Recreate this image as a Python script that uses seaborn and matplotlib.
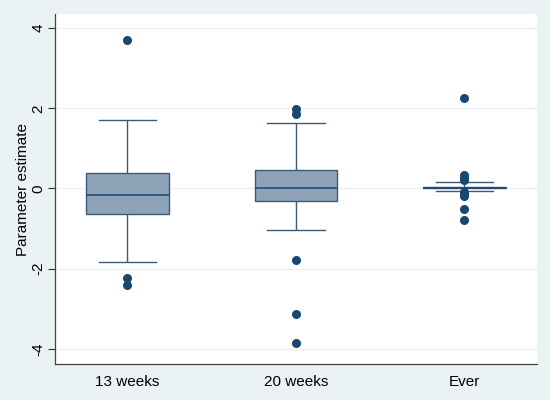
import numpy as np
import pandas as pd
import matplotlib
matplotlib.use("Agg")
import matplotlib.pyplot as plt
import seaborn as sns

# Five-number summaries (lower whisker, Q1, median, Q3, upper whisker)
groups = ["13 weeks", "20 weeks", "Ever"]
summary_13 = [-1.83, -0.63, -0.15, 0.38, 1.72]
summary_20 = [-1.04, -0.31, 0.00, 0.47, 1.64]
summary_ever = [-0.05, 0.00, 0.02, 0.04, 0.15]

# Outside values
outliers_13 = [3.69, -2.22, -2.40]
outliers_20 = [1.99, 1.86, -1.79, -3.12, -3.86]
outliers_ever = [2.26, 0.33, 0.27, 0.22, -0.08, -0.13, -0.19, -0.51, -0.79]

box_df = pd.DataFrame({
    "group": np.repeat(groups, 5),
    "value": summary_13 + summary_20 + summary_ever,
})
out_df = pd.DataFrame({
    "group": ["13 weeks"] * len(outliers_13) + ["20 weeks"] * len(outliers_20) + ["Ever"] * len(outliers_ever),
    "value": outliers_13 + outliers_20 + outliers_ever,
})

navy = "#1a476f"
edge = "#3b5a7a"
fill = "#8fa3b8"
bg = "#eaf2f3"

plt.rcParams["font.family"] = ["Liberation Sans", "DejaVu Sans"]

fig = plt.figure(figsize=(5.5, 4), dpi=100, facecolor=bg)
ax = fig.add_axes([0.1, 0.09, 0.876, 0.875])
ax.set_facecolor("white")

# whiskers drawn to min/max of the summary (outside values plotted separately)
sns.boxplot(data=box_df, x="group", y="value", order=groups, whis=(0, 100),
            width=0.49, color=fill, saturation=1, linecolor=edge, linewidth=1,
            medianprops={"color": navy, "linewidth": 1.1},
            showfliers=False, capwidths=0.34, ax=ax)
sns.stripplot(data=out_df, x="group", y="value", order=groups, jitter=False,
              color=navy, size=6.5, linewidth=0, ax=ax, zorder=3)

ax.set_xlim(-0.43, 2.43)
ax.set_ylim(-4.375, 4.35)
ax.set_yticks([-4, -2, 0, 2, 4])
ax.set_yticklabels(["-4", "-2", "0", "2", "4"], rotation=90, va="center")
ax.yaxis.grid(True, color=bg, linewidth=1)
ax.set_axisbelow(True)
ax.set_xlabel("")
ax.set_ylabel("Parameter estimate", fontsize=11, labelpad=1)
ax.tick_params(axis="y", length=5, width=0.8, color="#333333", labelsize=11, pad=2)
ax.tick_params(axis="x", length=0, labelsize=11, pad=8)
for s in ["top", "right"]:
    ax.spines[s].set_visible(False)
for s in ["left", "bottom"]:
    ax.spines[s].set_color("#444444")
    ax.spines[s].set_linewidth(0.9)

fig.savefig("out.png", dpi=100, facecolor=bg)
